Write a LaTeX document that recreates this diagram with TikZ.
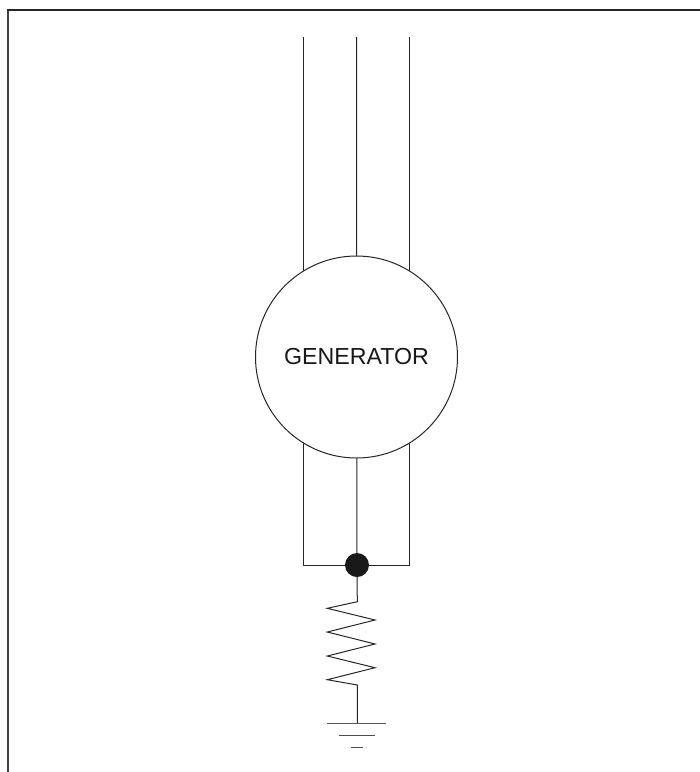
\documentclass[tikz,border=0pt]{standalone}
\usepackage{fontspec}
\setmainfont{Liberation Sans}
\begin{document}
\begin{tikzpicture}[x=1pt,y=-1pt,
  wire/.style={draw=black!85,line width=1pt,line join=miter},
  frameline/.style={draw=black!75,line width=1.7pt},
  genbox/.style={circle,draw=black!85,line width=1pt,fill=white,minimum size=202pt,inner sep=0pt,font=\fontsize{23.2}{27}\selectfont,text=black!90},
  jointdot/.style={circle,fill=black!90,draw=none,minimum size=24pt,inner sep=0pt}]
\useasboundingbox (0,0) rectangle (700,772);
\coordinate (fa) at (8.2,772);
\coordinate (fb) at (8.2,9.8);
\coordinate (fc) at (700,9.8);
\draw[frameline] (fa) -- (fb);
\draw[draw=black!85,line width=1.6pt] (7.35,9.8) -- (fc);
\coordinate (t1) at (303,37);
\coordinate (t2) at (356.5,37);
\coordinate (t3) at (409.7,37);
\coordinate (b1) at (303,565);
\coordinate (b3) at (409.7,565);
\node[jointdot] (dot) at (357,565) {};
\draw[wire] (t1) -- (b1) -- (dot) -- (b3) -- (t3);
\draw[wire] (t2) -- (dot);
\node[genbox] (gen) at (356.5,357) {GENERATOR};
\draw[wire] (dot) -- (357.3,601.7) -- (327.3,608.3) -- (375,620) -- (327.3,632) -- (375,644) -- (327.3,656) -- (375,667.7) -- (327.3,679.7) -- (357.3,685) -- (357.3,723.4) coordinate (g);
\draw[wire,draw=black!65,line width=1.1pt] (327,723.4) -- (386.3,723.4);
\draw[wire,draw=black!70] (339,735.7) -- (374.7,735.7);
\draw[wire,draw=black!70] (350.7,747.4) -- (362.7,747.4);
\end{tikzpicture}
\end{document}
